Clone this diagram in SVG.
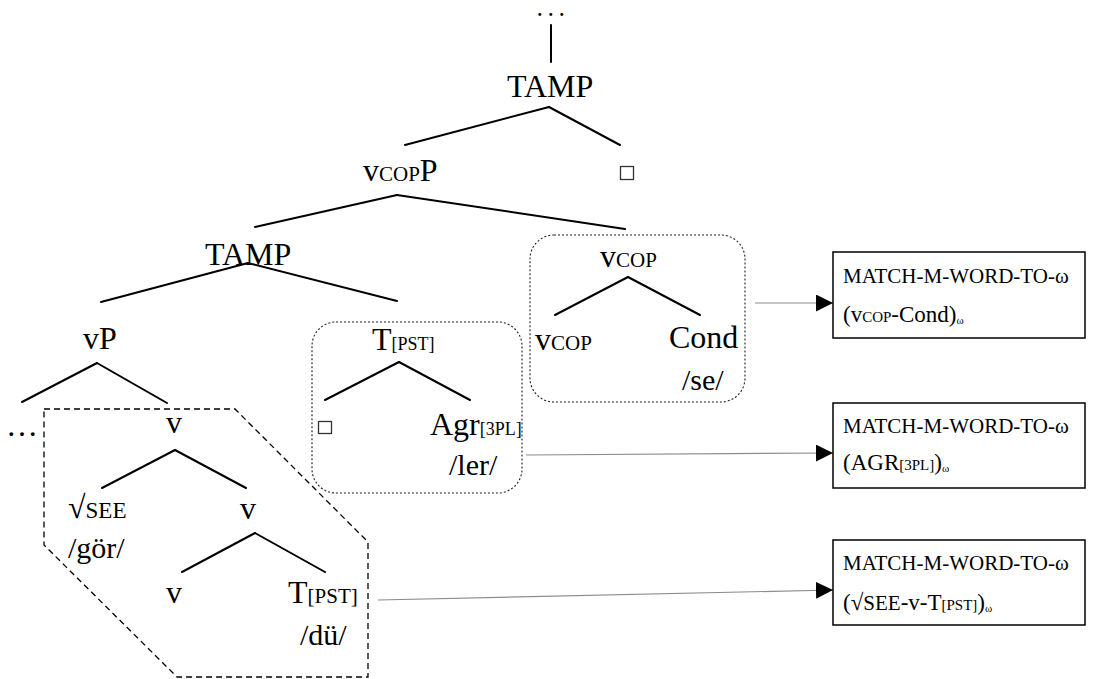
<svg xmlns="http://www.w3.org/2000/svg" width="1095" height="679" viewBox="0 0 1095 679">
<style>
text,tspan{font-family:"Liberation Serif","Times New Roman","DejaVu Serif",serif;fill:#000}
.L{font-size:32px}
.S{font-size:21px}
.F{font-size:30px}
.br{stroke:#000;stroke-width:2;fill:none;stroke-linecap:round}
.cn{stroke:#8c8c8c;stroke-width:1.2;fill:none}
.dot{fill:none;stroke:#222;stroke-width:1.1;stroke-dasharray:2 2}
.hex{fill:none;stroke:#000;stroke-width:1.3;stroke-dasharray:6 4}
.box{fill:#fff;stroke:#000;stroke-width:1.5}
.sq{fill:none;stroke:#333;stroke-width:1.3}
.b1{font-size:21px}
.bm{font-size:23px}
.bs{font-size:15px}
.bw{font-size:11px}
</style>
<defs>
<marker id="ah" markerUnits="userSpaceOnUse" markerWidth="17" markerHeight="17" refX="17" refY="8.5" orient="auto">
<path d="M0,0 L17,8.5 L0,17 z" fill="#000"/>
</marker>
</defs>
<rect width="1095" height="679" fill="#fff"/>

<g id="groupings">
<polygon class="hex" points="44,409 235,409 368,542 368,677 177,677 44,545"/>
<rect class="dot" x="312" y="322" width="210" height="171" rx="24"/>
<rect class="dot" x="530" y="235" width="215" height="167" rx="24"/>
</g>

<g id="connectors">
<line class="br" x1="551" y1="25" x2="551" y2="62"/>
<line class="br" x1="549" y1="107" x2="405" y2="145"/>
<line class="br" x1="549" y1="107" x2="620" y2="145"/>
<line class="br" x1="397" y1="195" x2="255" y2="227"/>
<line class="br" x1="397" y1="195" x2="625" y2="229"/>
<line class="br" x1="248" y1="263" x2="101" y2="302"/>
<line class="br" x1="248" y1="263" x2="397" y2="301"/>
<line class="br" x1="97" y1="363" x2="22" y2="402"/>
<line class="br" x1="97" y1="363" x2="167" y2="403"/>
<line class="br" x1="175" y1="450" x2="102" y2="488"/>
<line class="br" x1="175" y1="450" x2="246" y2="488"/>
<line class="br" x1="255" y1="533" x2="182" y2="572"/>
<line class="br" x1="255" y1="533" x2="325" y2="572"/>
<line class="br" x1="399" y1="362" x2="325" y2="400"/>
<line class="br" x1="399" y1="362" x2="470" y2="400"/>
<line class="br" x1="628" y1="277" x2="555" y2="315"/>
<line class="br" x1="628" y1="277" x2="700" y2="315"/>
<line class="cn" x1="755" y1="303" x2="833" y2="303" marker-end="url(#ah)"/>
<line class="cn" x1="526" y1="455" x2="833" y2="453" marker-end="url(#ah)"/>
<line class="cn" x1="378" y1="600" x2="833" y2="590" marker-end="url(#ah)"/>
</g>

<g id="n-top-dots"><text x="537.5" y="16" style="font-size:18px;font-weight:bold;letter-spacing:6.5px">...</text></g>
<g id="n-tamp1"><text class="L" x="507" y="97">TAMP</text></g>
<g id="n-vcopp"><text x="363" y="181"><tspan class="L">v</tspan><tspan class="S">COP</tspan><tspan class="L">P</tspan></text></g>
<g id="n-empty1"><rect class="sq" x="620.5" y="166.5" width="13" height="13"/></g>
<g id="n-tamp2"><text class="L" x="205" y="265">TAMP</text></g>
<g id="n-vp"><text class="L" x="83" y="349">vP</text></g>
<g id="n-left-dots"><text class="L" x="22" y="436" text-anchor="middle">…</text></g>
<g id="n-v1"><text class="L" x="174" y="433" text-anchor="middle">v</text></g>
<g id="n-root"><text x="68" y="518"><tspan class="L">√</tspan><tspan style="font-size:23px">SEE</tspan></text><text class="F" x="68" y="558">/gör/</text></g>
<g id="n-v2"><text class="L" x="248" y="519" text-anchor="middle">v</text></g>
<g id="n-v3"><text class="L" x="174" y="603" text-anchor="middle">v</text></g>
<g id="n-tpst1"><text x="288" y="603"><tspan class="L">T</tspan><tspan class="S">[PST]</tspan></text><text class="F" x="300" y="645">/dü/</text></g>
<g id="n-tpst2"><text x="372" y="350"><tspan class="L">T</tspan><tspan style="font-size:18px">[PST]</tspan></text></g>
<g id="n-empty2"><rect class="sq" x="318.5" y="421.5" width="13" height="12"/></g>
<g id="n-agr"><text x="430" y="435"><tspan class="L">Agr</tspan><tspan style="font-size:18px">[3PL]</tspan></text><text class="F" x="449" y="475">/ler/</text></g>
<g id="n-vcop1"><text x="600" y="267"><tspan class="L">v</tspan><tspan class="S">COP</tspan></text></g>
<g id="n-vcop2"><text x="535" y="350"><tspan class="L">v</tspan><tspan class="S">COP</tspan></text></g>
<g id="n-cond"><text class="L" x="669" y="348">Cond</text><text class="F" x="682" y="390">/se/</text></g>

<g id="n-box1">
<rect class="box" x="833" y="252" width="252" height="86"/>
<text class="b1" x="843" y="283">MATCH-M-WORD-TO-ω</text>
<text x="843" y="322"><tspan class="bm">(v</tspan><tspan class="bs">COP</tspan><tspan class="bm">-Cond)</tspan><tspan class="bw" dy="2">ω</tspan></text>
</g>
<g id="n-box2">
<rect class="box" x="833" y="403" width="252" height="85"/>
<text class="b1" x="843" y="433">MATCH-M-WORD-TO-ω</text>
<text x="843" y="470"><tspan class="bm">(AGR</tspan><tspan class="bs">[3PL]</tspan><tspan class="bm">)</tspan><tspan class="bw" dy="2">ω</tspan></text>
</g>
<g id="n-box3">
<rect class="box" x="833" y="540" width="252" height="85"/>
<text class="b1" x="843" y="570">MATCH-M-WORD-TO-ω</text>
<text x="843" y="610"><tspan class="bm">(√</tspan><tspan style="font-size:21px">SEE</tspan><tspan class="bm">-v-T</tspan><tspan class="bs">[PST]</tspan><tspan class="bm">)</tspan><tspan class="bw" dy="2">ω</tspan></text>
</g>
</svg>
